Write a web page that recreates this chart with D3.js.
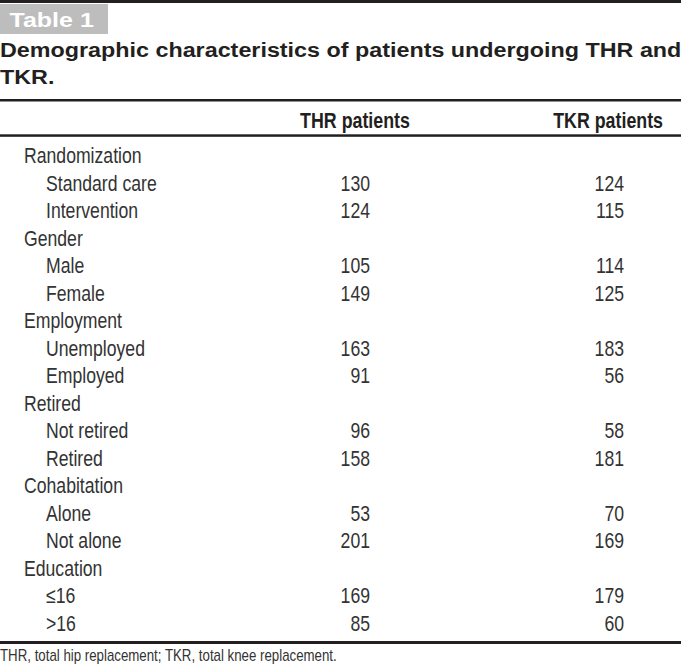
<!DOCTYPE html>
<html>
<head>
<meta charset="utf-8">
<script src="https://cdn.jsdelivr.net/npm/d3@7"></script>
<style>
  html, body { margin: 0; padding: 0; background: #fff; }
  svg { display: block; }
</style>
</head>
<body>
<svg id="chart" width="681" height="665"></svg>
<script>
// ---- data ----
const tableLabel = "Table 1";
const titleLines = ["Demographic characteristics of patients undergoing THR and", "TKR."];
const columnHeaders = ["THR patients", "TKR patients"];
const groups = ["Randomization", "Gender", "Employment", "Retired", "Cohabitation", "Education"];
const subLabels = [
  ["Standard care", "Intervention"],
  ["Male", "Female"],
  ["Unemployed", "Employed"],
  ["Not retired", "Retired"],
  ["Alone", "Not alone"],
  ["\u226416", ">16"]
];
const thrValues = [130, 124, 105, 149, 163, 91, 96, 158, 53, 201, 169, 85];
const tkrValues = [124, 115, 114, 125, 183, 56, 58, 181, 70, 169, 179, 60];
const footnote = "THR, total hip replacement; TKR, total knee replacement.";

// ---- build rows ----
const rows = [];
let k = 0;
groups.forEach((g, gi) => {
  rows.push({ label: g, level: 0 });
  subLabels[gi].forEach(s => {
    rows.push({ label: s, level: 1, thr: thrValues[k], tkr: tkrValues[k] });
    k++;
  });
});

const svg = d3.select("#chart");
const W = 681;
const dark = "#231f20";
const bodyFill = "#333";
const font = "'Liberation Sans', Arial, Helvetica, sans-serif";
const cond = 0.82; // condensed face emulation

const y = d3.scaleLinear().domain([0, rows.length - 1]).range([163, 630.5]);
const x = d3.scaleOrdinal().domain(["group", "sub", "thr", "tkr"]).range([24, 46, 370, 624]);

function narrowText(sel, tx, ty, txt, opts) {
  return sel.append("text")
    .attr("transform", `translate(${tx},${ty}) scale(${opts.sx || cond},1)`)
    .attr("text-anchor", opts.anchor || "start")
    .attr("font-family", font)
    .attr("font-weight", opts.weight || "normal")
    .attr("font-size", opts.size)
    .attr("fill", opts.fill || bodyFill)
    .text(txt);
}

// top rule
svg.append("rect").attr("x", 0).attr("y", 0).attr("width", W).attr("height", 3).attr("fill", dark);

// badge
svg.append("rect").attr("x", 0).attr("y", 4).attr("width", 108).attr("height", 30).attr("fill", "#bdbdbd");
narrowText(svg, 9.5, 26.7, tableLabel, { sx: 1.22, size: 20.5, weight: "bold", fill: "#fff" });

// title
titleLines.forEach((t, i) => {
  narrowText(svg, 0, 56.5 + i * 27, t, { sx: 1.19, size: 19.6, weight: "bold", fill: dark });
});

// rules
svg.append("rect").attr("x", 0).attr("y", 99).attr("width", W).attr("height", 2.5).attr("fill", dark);
svg.append("rect").attr("x", 0).attr("y", 134.3).attr("width", W).attr("height", 2.5).attr("fill", dark);
svg.append("rect").attr("x", 0).attr("y", 641).attr("width", W).attr("height", 3).attr("fill", dark);

// headers
narrowText(svg, 355, 127.5, columnHeaders[0], { size: 22, weight: "bold", anchor: "middle", fill: dark, sx: 0.81 });
narrowText(svg, 663, 127.5, columnHeaders[1], { size: 22, weight: "bold", anchor: "end", fill: dark, sx: 0.81 });

// body
const rowG = svg.selectAll("g.row").data(rows).join("g")
  .attr("class", "row")
  .attr("transform", (d, i) => `translate(0,${y(i)})`);

rowG.each(function (d) {
  const g = d3.select(this);
  narrowText(g, x(d.level === 0 ? "group" : "sub"), 0, d.label, { size: 21.5 });
  if (d.level === 1) {
    narrowText(g, x("thr"), 0, d.thr, { size: 21.5, anchor: "end" });
    narrowText(g, x("tkr"), 0, d.tkr, { size: 21.5, anchor: "end" });
  }
});

// footnote
narrowText(svg, 0, 661, footnote, { size: 16, sx: 0.83 });
</script>
</body>
</html>
